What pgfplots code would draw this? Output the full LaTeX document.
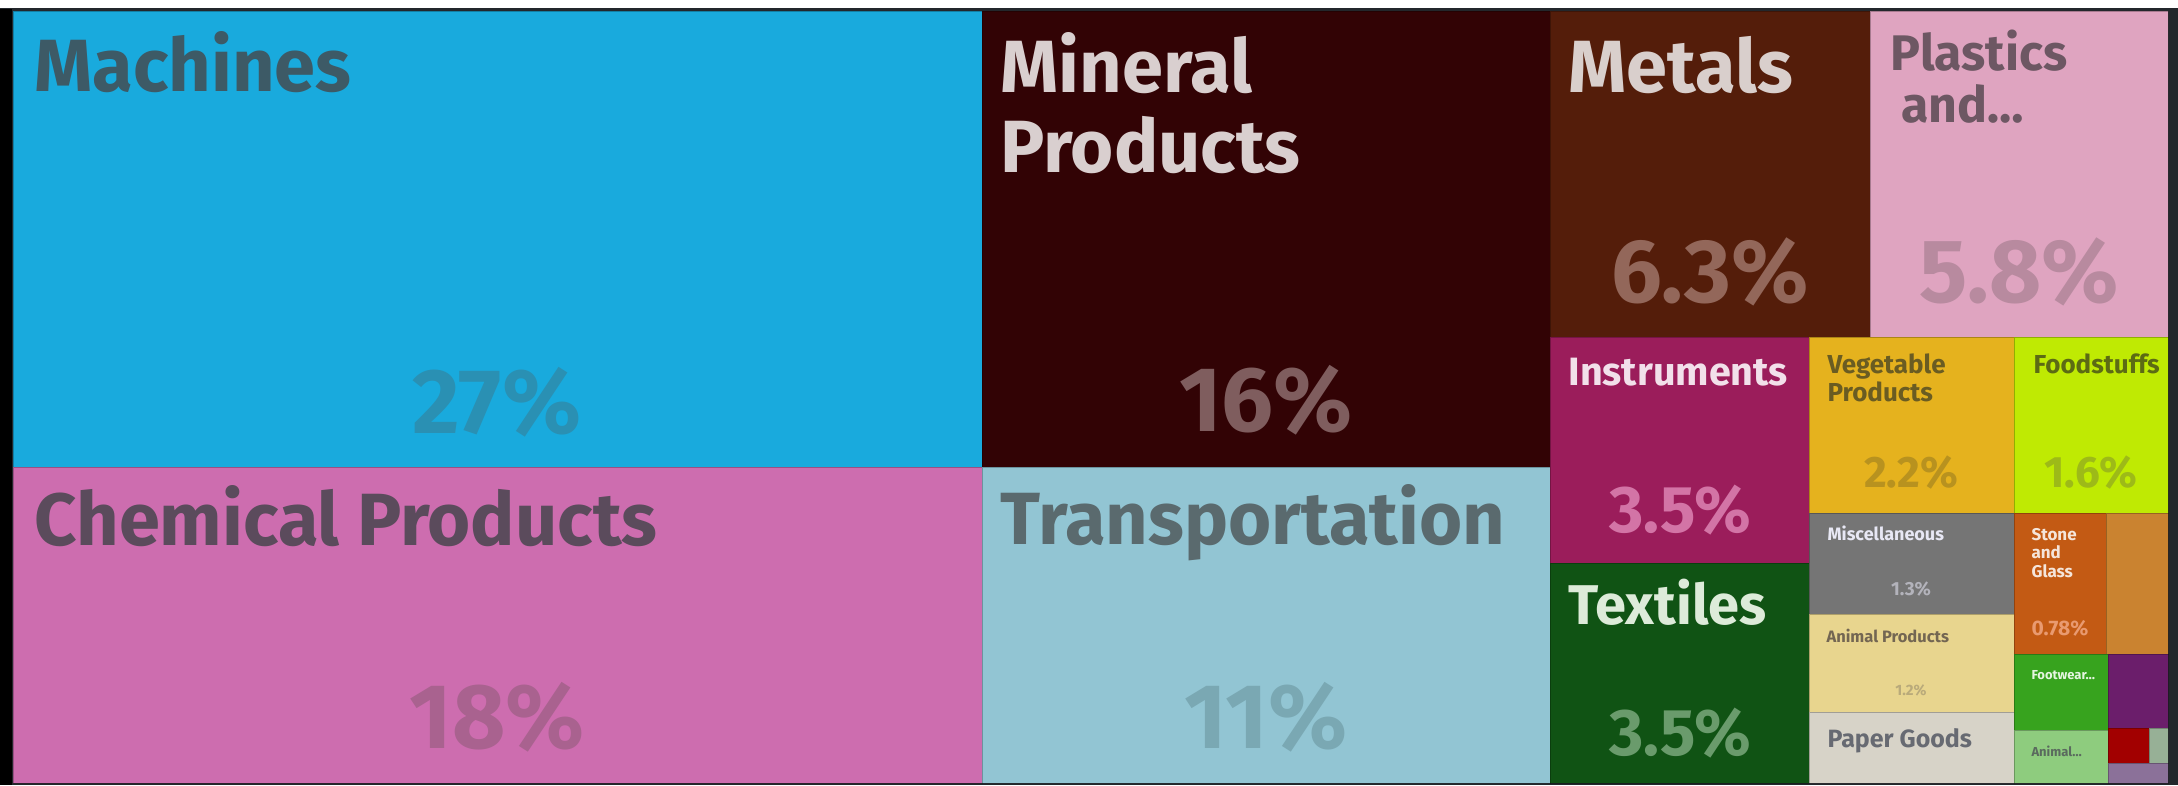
\documentclass[border=0pt]{standalone}
\usepackage{pgfplots}
\pgfplotsset{compat=1.18}
\usepackage{fontspec}
\setmainfont{Fira Sans}

% treemap cell colours
\definecolor{cMach}{HTML}{19AADD}
\definecolor{cChem}{HTML}{CD6DAF}
\definecolor{cMin}{HTML}{320305}
\definecolor{cTrans}{HTML}{92C5D3}
\definecolor{cMet}{HTML}{541D0A}
\definecolor{cPlas}{HTML}{DFA4C0}
\definecolor{cInst}{HTML}{9B1D5B}
\definecolor{cText}{HTML}{105314}
\definecolor{cVeg}{HTML}{E5B21E}
\definecolor{cFood}{HTML}{BFEA03}
\definecolor{cMisc}{HTML}{757575}
\definecolor{cAnim}{HTML}{E8D58E}
\definecolor{cPap}{HTML}{D7D3C8}
\definecolor{cStone}{HTML}{C35A14}
\definecolor{cOra}{HTML}{CA8330}
\definecolor{cFoot}{HTML}{37A31E}
\definecolor{cHide}{HTML}{8ECC7E}
\definecolor{cPurp}{HTML}{6B1E6B}
\definecolor{cRed}{HTML}{A20000}
\definecolor{cGrGr}{HTML}{97B096}
\definecolor{cLav}{HTML}{8B7199}
\definecolor{cFrame}{HTML}{23272C}

\newcommand{\fs}[1]{\fontsize{#1}{#1}\selectfont\bfseries}
% one cell: x0 x1 y0 y1 colour
\newcommand{\cell}[5]{%
  \addplot[fill=#5, draw=black, draw opacity=0.25, line width=1pt]
    coordinates {(#1,#3) (#2,#3) (#2,#4) (#1,#4) (#1,#3)};}

\begin{document}
\begin{tikzpicture}
\begin{axis}[
  width=2178pt, height=785pt, scale only axis,
  xmin=0, xmax=2178, ymin=0, ymax=785,
  y dir=reverse, axis lines=none, clip=false, no markers,
  every node/.style={inner sep=0pt, outer sep=0pt}
]
% frame
\addplot[fill=white, draw=none] coordinates {(0,0) (2178,0) (2178,785) (0,785)};
\addplot[fill=cFrame, draw=none] coordinates {(0,8) (2178,8) (2178,785) (0,785)};
\addplot[fill=black, draw=none] coordinates {(0,9) (12,9) (12,785) (0,785)};

\cell{13}{982}{11}{467}{cMach}
\cell{13}{982}{467}{783}{cChem}
\cell{982}{1550}{11}{467}{cMin}
\cell{982}{1550}{467}{783}{cTrans}
\cell{1550}{1870}{11}{337}{cMet}
\cell{1870}{2168}{11}{337}{cPlas}
\cell{1550}{1809}{337}{563}{cInst}
\cell{1550}{1809}{563}{783}{cText}
\cell{1809}{2014}{337}{513}{cVeg}
\cell{2014}{2168}{337}{513}{cFood}
\cell{1809}{2014}{513}{614}{cMisc}
\cell{1809}{2014}{614}{712}{cAnim}
\cell{1809}{2014}{712}{783}{cPap}
\cell{2014}{2106}{513}{654}{cStone}
\cell{2106}{2168}{513}{654}{cOra}
\cell{2014}{2108}{654}{730}{cFoot}
\cell{2014}{2108}{730}{783}{cHide}
\cell{2108}{2168}{654}{728}{cPurp}
\cell{2108}{2149}{728}{763}{cRed}
\cell{2149}{2168}{728}{763}{cGrGr}
\cell{2108}{2168}{763}{783}{cLav}

% labels
\node[anchor=base west, text={rgb,255:red,61;green,90;blue,102}, font=\fs{74}] at (axis cs:31,91) {Machines};
\node[anchor=base, text={rgb,255:red,42;green,144;blue,179}, font=\fs{92}] at (axis cs:497,433) {27\%};
\node[anchor=base west, text={rgb,255:red,91;green,75;blue,92}, font=\fs{74}] at (axis cs:31,545) {Chemical Products};
\node[anchor=base, text={rgb,255:red,169;green,98;blue,143}, font=\fs{92}] at (axis cs:497,748) {18\%};
\node[anchor=base west, text={rgb,255:red,217;green,207;blue,207}, font=\fs{74}] at (axis cs:997,92) {Mineral};
\node[anchor=base west, text={rgb,255:red,217;green,207;blue,207}, font=\fs{74}] at (axis cs:997,172) {Products};
\node[anchor=base, text={rgb,255:red,127;green,93;blue,94}, font=\fs{92}] at (axis cs:1266,431) {16\%};
\node[anchor=base west, text={rgb,255:red,90;green,106;blue,110}, font=\fs{74}] at (axis cs:997,544) {Transportation};
\node[anchor=base, text={rgb,255:red,122;green,168;blue,179}, font=\fs{92}] at (axis cs:1266,748) {11\%};
\node[anchor=base west, text={rgb,255:red,217;green,207;blue,204}, font=\fs{74}] at (axis cs:1565,92) {Metals};
\node[anchor=base, text={rgb,255:red,147;green,103;blue,90}, font=\fs{90}] at (axis cs:1710,302) {6.3\%};
\node[anchor=base west, text={rgb,255:red,109;green,87;blue,99}, font=\fs{50}] at (axis cs:1887,70) {Plastics};
\node[anchor=base west, text={rgb,255:red,109;green,87;blue,99}, font=\fs{50}] at (axis cs:1898,122) {and…};
\node[anchor=base, text={rgb,255:red,184;green,138;blue,159}, font=\fs{90}] at (axis cs:2019,302) {5.8\%};
\node[anchor=base west, text={rgb,255:red,242;green,224;blue,234}, font=\fs{39.5}] at (axis cs:1565,385) {Instruments};
\node[anchor=base, text={rgb,255:red,211;green,116;blue,166}, font=\fs{66}] at (axis cs:1680,532) {3.5\%};
\node[anchor=base west, text={rgb,255:red,221;green,235;blue,217}, font=\fs{56}] at (axis cs:1565,624) {Textiles};
\node[anchor=base, text={rgb,255:red,106;green,155;blue,108}, font=\fs{66}] at (axis cs:1680,755) {3.5\%};
\node[anchor=base west, text={rgb,255:red,106;green,92;blue,34}, font=\fs{26}] at (axis cs:1824,373) {Vegetable};
\node[anchor=base west, text={rgb,255:red,106;green,92;blue,34}, font=\fs{26}] at (axis cs:1824,401) {Products};
\node[anchor=base, text={rgb,255:red,184;green,146;blue,31}, font=\fs{44}] at (axis cs:1911,487) {2.2\%};
\node[anchor=base west, text={rgb,255:red,92;green,107;blue,20}, font=\fs{26}] at (axis cs:2030,373) {Foodstuffs};
\node[anchor=base, text={rgb,255:red,157;green,186;blue,24}, font=\fs{44}] at (axis cs:2091,487) {1.6\%};
\node[anchor=base west, text={rgb,255:red,232;green,232;blue,245}, font=\fs{18}] at (axis cs:1824,540) {Miscellaneous};
\node[anchor=base, text={rgb,255:red,179;green,179;blue,187}, font=\fs{19}] at (axis cs:1911,595) {1.3\%};
\node[anchor=base west, text={rgb,255:red,115;green,102;blue,82}, font=\fs{16.5}] at (axis cs:1823,642) {Animal Products};
\node[anchor=base, text={rgb,255:red,185;green,170;blue,122}, font=\fs{15}] at (axis cs:1911,695) {1.2\%};
\node[anchor=base west, text={rgb,255:red,103;green,106;blue,114}, font=\fs{25}] at (axis cs:1824,747) {Paper Goods};
\node[anchor=base west, text={rgb,255:red,245;green,229;blue,218}, font=\fs{17}] at (axis cs:2028,540) {Stone};
\node[anchor=base west, text={rgb,255:red,245;green,229;blue,218}, font=\fs{17}] at (axis cs:2028,558) {and};
\node[anchor=base west, text={rgb,255:red,245;green,229;blue,218}, font=\fs{17}] at (axis cs:2028,577) {Glass};
\node[anchor=base, text={rgb,255:red,233;green,154;blue,112}, font=\fs{21}] at (axis cs:2060,635) {0.78\%};
\node[anchor=base west, text={rgb,255:red,229;green,245;blue,224}, font=\fs{13}] at (axis cs:2028,679) {Footwear…};
\node[anchor=base west, text={rgb,255:red,90;green,106;blue,94}, font=\fs{13}] at (axis cs:2028,756) {Animal…};
\end{axis}
\end{tikzpicture}
\end{document}
